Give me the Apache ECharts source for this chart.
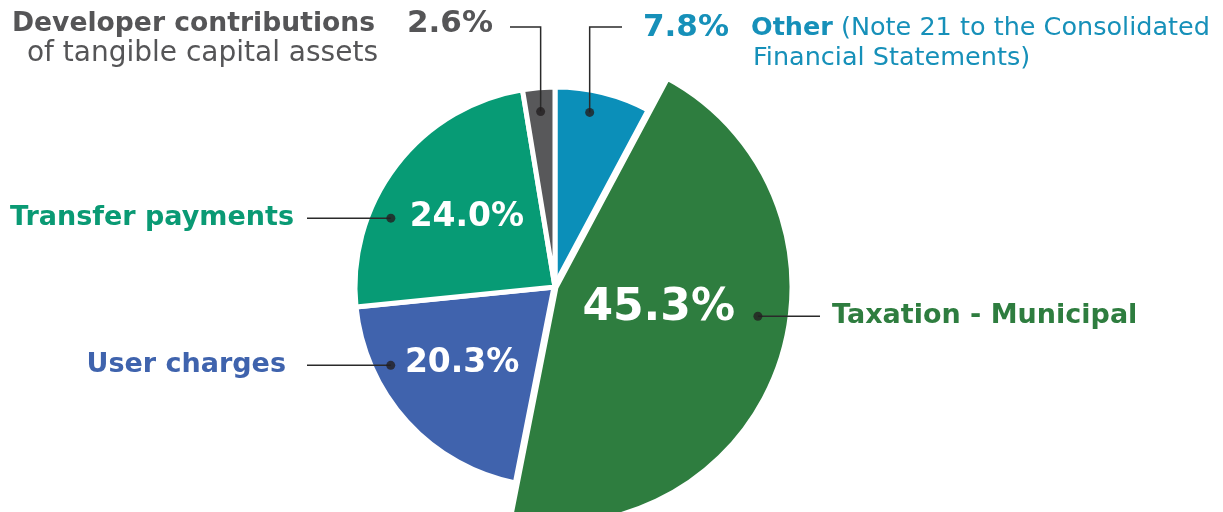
<!DOCTYPE html>
<html><head><meta charset="utf-8">
<script src="https://cdn.jsdelivr.net/npm/echarts@6/dist/echarts.min.js"></script>
<style>html,body{margin:0;padding:0;background:#fff}#c{width:1223px;height:512px}</style>
</head><body><div id="c"></div>
<script>
// ---- data ----
const categories = ['Other', 'Taxation - Municipal', 'User charges', 'Transfer payments', 'Developer contributions'];
const shares = [7.8, 45.3, 20.3, 24.0, 2.6];
const noteLines = ['(Note 21 to the Consolidated', 'Financial Statements)'];
const developerSubLabel = 'of tangible capital assets';

// ---- styling / layout ----
const sliceColors = ['#0b8fb9', '#2e7d3f', '#4063ad', '#079b75', '#58585a'];
const textColors  = ['#1690b9', '#2e7d3f', '#3f63ad', '#0a9a74', '#555557'];
const CX = 555, CY = 287, R_BASE = 200, R_TAX = 238;
const TAX = 1;
const BOLD = 'DejaVu Sans';
const REG = 'DejaVu Sans';
// callout dot anchors: fraction through slice, radius px
const dotAnchors = [{f:0.40, r:178}, {f:0.43, r:205}, {f:0.73, r:182}, {f:0.33, r:178}, {f:0.5, r:176}];
// inside percentage anchors
const pctAnchors = [null, {f:0.453, r:106}, {f:0.541, r:120}, {f:0.508, r:112}, null];

const total = shares.reduce((a, b) => a + b, 0);
const cum = [];
shares.reduce((acc, v, i) => { cum[i] = acc; return acc + v; }, 0);
function angleOf(i, f) { return (cum[i] + f * shares[i]) / total * 360; }
function pointAt(i, a) {
  const ang = angleOf(i, a.f) * Math.PI / 180;
  return [CX + a.r * Math.sin(ang), CY - a.r * Math.cos(ang)];
}
const pct = v => v.toFixed(1) + '%';
const clear = { color: 'rgba(0,0,0,0)', borderWidth: 0 };

// base pie
const baseData = categories.map((name, i) => ({
  name, value: shares[i],
  itemStyle: i === TAX ? clear : { color: sliceColors[i] },
  label: (i === 2 || i === 3) ? {
    show: true, position: 'inside', formatter: pct(shares[i]),
    color: '#fff', fontFamily: BOLD, fontWeight: 'bold', fontSize: 33
  } : { show: false },
  labelLine: { show: false }
}));
// taxation pie (larger radius)
const taxData = categories.map((name, i) => ({
  name, value: shares[i],
  itemStyle: i === TAX ? { color: sliceColors[i] } : clear,
  label: i === TAX ? {
    show: true, position: 'inside', formatter: pct(shares[i]),
    color: '#fff', fontFamily: BOLD, fontWeight: 'bold', fontSize: 44
  } : { show: false },
  labelLine: { show: false }
}));
// callouts
function calloutLabel(i) {
  const c = textColors[i];
  if (i === 0) {
    return {
      show: true, position: 'outside', align: 'left',
      formatter: '{p|' + pct(shares[i]) + '}{g|}{b|' + categories[i] + '}{r| ' + noteLines[0] + '}\n{i|}{r|' + noteLines[1] + '}',
      rich: {
        p: { fontFamily: BOLD, fontWeight: 'bold', fontSize: 31, color: c, lineHeight: 30, verticalAlign: 'middle' },
        g: { width: 22, lineHeight: 30 },
        i: { width: 110, lineHeight: 30 },
        b: { fontFamily: BOLD, fontWeight: 'bold', fontSize: 25.5, color: c, lineHeight: 30, verticalAlign: 'middle' },
        r: { fontFamily: REG, fontSize: 25.5, color: c, lineHeight: 30, verticalAlign: 'middle' }
      }
    };
  }
  if (i === 4) {
    return {
      show: true, position: 'outside', align: 'right',
      formatter: '{b|' + categories[i] + '}{g|}{p|' + pct(shares[i]) + '}\n{r|' + developerSubLabel + '}{i|}',
      rich: {
        p: { fontFamily: BOLD, fontWeight: 'bold', fontSize: 31, color: c, lineHeight: 30, verticalAlign: 'middle', align: 'right' },
        g: { width: 32, lineHeight: 30, align: 'right' },
        i: { width: 115, lineHeight: 30, align: 'right' },
        b: { fontFamily: BOLD, fontWeight: 'bold', fontSize: 26.6, color: c, lineHeight: 30, verticalAlign: 'middle', align: 'right' },
        r: { fontFamily: REG, fontSize: 28, color: c, lineHeight: 30, verticalAlign: 'middle', align: 'right' }
      }
    };
  }
  return {
    show: true, position: 'outside', formatter: categories[i],
    fontFamily: BOLD, fontWeight: 'bold', fontSize: 27, color: c
  };
}
const calloutData = categories.map((name, i) => ({
  name, value: shares[i], itemStyle: clear,
  label: calloutLabel(i),
  labelLine: { show: true, lineStyle: { color: '#2a2a2a', width: 1.5 } }
}));

function insideLayout(p) {
  const a = pctAnchors[p.dataIndex];
  if (!a) return {};
  const [x, y] = pointAt(p.dataIndex, a);
  return { x, y, align: 'center', verticalAlign: 'middle' };
}
function calloutLayout(p) {
  const i = p.dataIndex;
  const [dx, dy] = pointAt(i, dotAnchors[i]);
  if (i === 0) return { x: 643, y: 13, align: 'left', verticalAlign: 'top',
    labelLinePoints: [[dx, dy], [dx, 27], [622, 27]] };
  if (i === 4) return { x: 493, y: 9, align: 'right', verticalAlign: 'top',
    labelLinePoints: [[dx, dy], [dx, 27], [510, 27]] };
  if (i === TAX) return { x: 832, y: dy, align: 'left', verticalAlign: 'middle',
    labelLinePoints: [[dx, dy], [(dx + 820) / 2, dy], [820, dy]] };
  if (i === 3) return { x: 294, y: dy, align: 'right', verticalAlign: 'middle',
    labelLinePoints: [[dx, dy], [(dx + 307) / 2, dy], [307, dy]] };
  return { x: 286, y: dy, align: 'right', verticalAlign: 'middle',
    labelLinePoints: [[dx, dy], [(dx + 307) / 2, dy], [307, dy]] };
}

const dotData = categories.map((name, i) => [dotAnchors[i].r, angleOf(i, dotAnchors[i].f)]);

const chart = echarts.init(document.getElementById('c'), null, { renderer: 'canvas' });
chart.setOption({
  animation: false,
  backgroundColor: '#fff',
  polar: { center: [CX, CY], radius: R_TAX },
  angleAxis: { type: 'value', min: 0, max: 360, startAngle: 90, clockwise: true, show: false },
  radiusAxis: { type: 'value', min: 0, max: R_TAX, show: false },
  series: [
    { type: 'pie', name: 'base', center: [CX, CY], radius: R_BASE, startAngle: 90, clockwise: true,
      avoidLabelOverlap: false, silent: true, z: 2,
      itemStyle: { borderColor: '#fff', borderWidth: 5 },
      labelLayout: insideLayout, data: baseData },
    { type: 'pie', name: 'tax', center: [CX, CY], radius: R_TAX, startAngle: 90, clockwise: true,
      avoidLabelOverlap: false, silent: true, z: 3,
      itemStyle: { borderColor: '#fff', borderWidth: 7 },
      labelLayout: insideLayout, data: taxData },
    { type: 'pie', name: 'callouts', center: [CX, CY], radius: R_BASE, startAngle: 90, clockwise: true,
      avoidLabelOverlap: false, silent: true, z: 4,
      labelLayout: calloutLayout, data: calloutData },
    { type: 'scatter', coordinateSystem: 'polar', symbol: 'circle', symbolSize: 9, silent: true, z: 10,
      itemStyle: { color: '#231f20' }, data: dotData }
  ]
});
</script>
</body></html>
